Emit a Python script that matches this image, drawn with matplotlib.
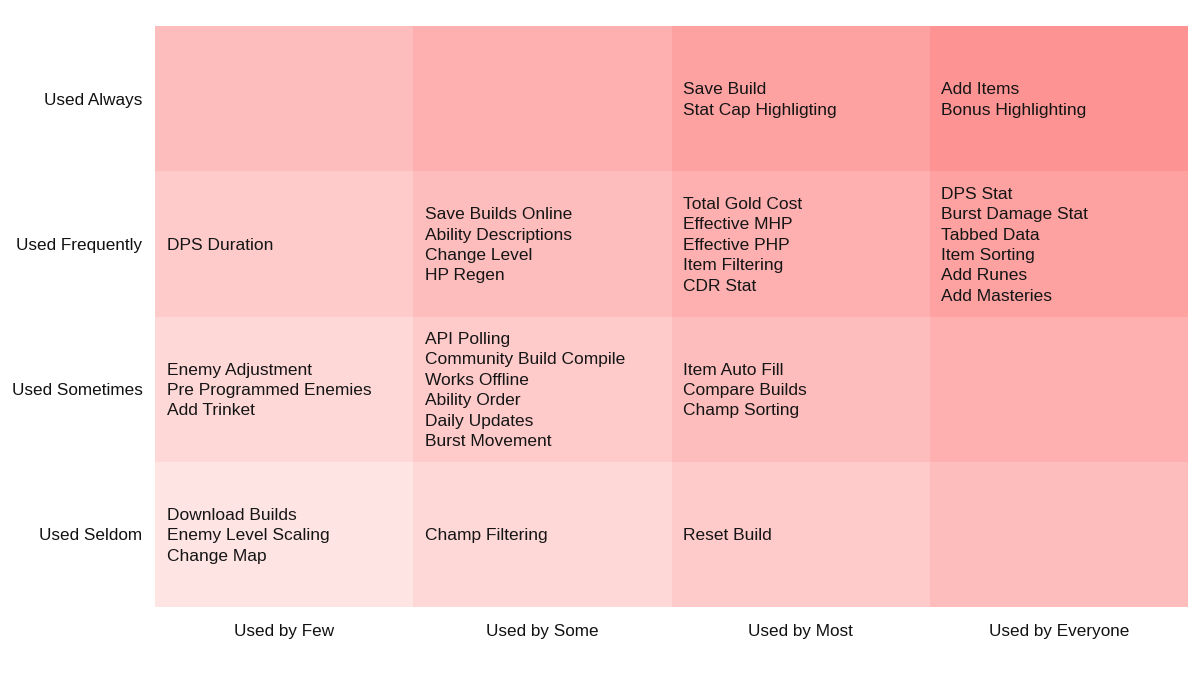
import matplotlib
matplotlib.use("Agg")
import matplotlib.pyplot as plt
from matplotlib.colors import LinearSegmentedColormap
import numpy as np

plt.rcParams['font.family'] = ['Liberation Sans', 'DejaVu Sans']

col_labels = ["Used by Few", "Used by Some", "Used by Most", "Used by Everyone"]
row_labels = ["Used Always", "Used Frequently", "Used Sometimes", "Used Seldom"]

# heat intensity per cell (rows top->bottom, cols left->right)
heat = np.array([
    [3, 4, 5, 6],
    [2, 3, 4, 5],
    [1, 2, 3, 4],
    [0, 1, 2, 3],
])

features = [
    [[], [], ["Save Build", "Stat Cap Highligting"], ["Add Items", "Bonus Highlighting"]],
    [["DPS Duration"],
     ["Save Builds Online", "Ability Descriptions", "Change Level", "HP Regen"],
     ["Total Gold Cost", "Effective MHP", "Effective PHP", "Item Filtering", "CDR Stat"],
     ["DPS Stat", "Burst Damage Stat", "Tabbed Data", "Item Sorting", "Add Runes", "Add Masteries"]],
    [["Enemy Adjustment", "Pre Programmed Enemies", "Add Trinket"],
     ["API Polling", "Community Build Compile", "Works Offline", "Ability Order", "Daily Updates", "Burst Movement"],
     ["Item Auto Fill", "Compare Builds", "Champ Sorting"],
     []],
    [["Download Builds", "Enemy Level Scaling", "Change Map"],
     ["Champ Filtering"],
     ["Reset Build"],
     []],
]

cmap = LinearSegmentedColormap.from_list("pinks", ["#FEE5E4", "#FEBDBD", "#FE9393"])

fig = plt.figure(figsize=(12, 6.75), dpi=100)
ax = fig.add_axes([155/1200, 1 - 607/675, (1188 - 155)/1200, (607 - 26)/675])

ax.pcolormesh(np.arange(len(col_labels) + 1) - 0.5,
              np.arange(len(row_labels) + 1) - 0.5,
              heat, cmap=cmap, vmin=0, vmax=6, shading='flat')
ax.set_xlim(-0.5, len(col_labels) - 0.5)
ax.set_ylim(len(row_labels) - 0.5, -0.5)

for r, row in enumerate(features):
    for c, items in enumerate(row):
        if items:
            ax.text(c - 0.455, r + 0.01, "\n".join(items), ha='left', va='center',
                    fontsize=12.5, color='#151515', linespacing=1.45)

ax.set_xticks(range(len(col_labels)))
ax.set_xticklabels(col_labels, fontsize=12.3, color='#111111')
ax.set_yticks(range(len(row_labels)))
ax.set_yticklabels(row_labels, fontsize=12.3, color='#111111')
ax.tick_params(axis='x', length=0, pad=12)
ax.tick_params(axis='y', length=0, pad=9)
for s in ax.spines.values():
    s.set_visible(False)

fig.savefig("out.png", dpi=100, facecolor='white')
